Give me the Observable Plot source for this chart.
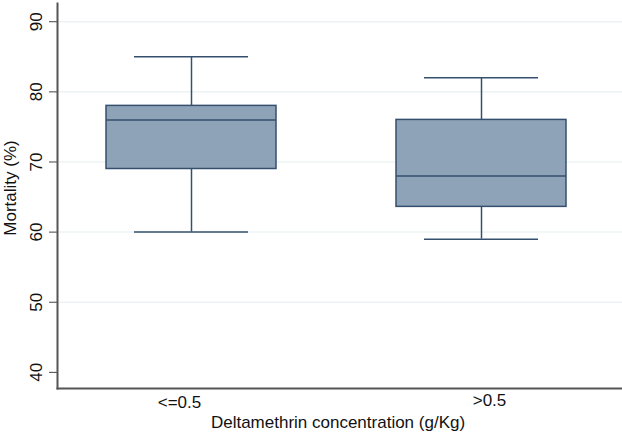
<!DOCTYPE html>
<html>
<head>
<meta charset="utf-8">
<script src="https://cdn.jsdelivr.net/npm/d3@7"></script>
<script src="https://cdn.jsdelivr.net/npm/@observablehq/plot@0.6"></script>
<style>
  html, body { margin: 0; padding: 0; background: #fff; }
  svg { font-family: "Liberation Sans", Arial, sans-serif; }
</style>
</head>
<body>
<div id="chart"></div>
<script>
const categories = ["<=0.5", ">0.5"];
const lowerWhisker = [60, 59];
const q1 = [69, 63.6];
const median = [76, 68];
const q3 = [78, 76];
const upperWhisker = [85, 82];
const yTicks = [40, 50, 60, 70, 80, 90];
const gridTicks = [50, 60, 70, 80, 90];

const data = categories.map((c, i) => ({
  cat: c, lo: lowerWhisker[i], q1: q1[i], med: median[i], q3: q3[i], hi: upperWhisker[i]
}));

const fill = "#8fa3b8";
const stroke = "#34506e";

const chart = Plot.plot({
  width: 622,
  height: 436,
  marginTop: 3,
  marginBottom: 48,
  marginLeft: 57,
  marginRight: 0,
  style: { fontFamily: "Liberation Sans, Arial, sans-serif", fontSize: "17px", background: "#fff" },
  x: { type: "band", domain: categories, paddingInner: 0.414, paddingOuter: 0.18, align: 0.47 },
  y: { domain: [37.7, 92.6] },
  marks: [
    Plot.ruleY(gridTicks, { stroke: "#edf3f5", strokeWidth: 1.5 }),
    Plot.ruleX(data, { x: "cat", y1: "lo", y2: "q1", stroke, strokeWidth: 1.5 }),
    Plot.ruleX(data, { x: "cat", y1: "q3", y2: "hi", stroke, strokeWidth: 1.5 }),
    Plot.tickY(data, { x: "cat", y: "lo", stroke, strokeWidth: 1.5, insetLeft: 28, insetRight: 28 }),
    Plot.tickY(data, { x: "cat", y: "hi", stroke, strokeWidth: 1.5, insetLeft: 28, insetRight: 28 }),
    Plot.barY(data, { x: "cat", y1: "q1", y2: "q3", fill, stroke, strokeWidth: 1.5 }),
    Plot.tickY(data, { x: "cat", y: "med", stroke, strokeWidth: 1.5 }),
    Plot.axisY({
      ticks: yTicks, tickSize: 8, tickFormat: () => "",
      stroke: "#444", label: null
    }),
    Plot.text(yTicks, { y: d => d, frameAnchor: "left", dx: -21, rotate: -90, textAnchor: "middle", fill: "#111", fontSize: 17 }),
    Plot.text(["Mortality (%)"], { frameAnchor: "left", dx: -47, dy: -8, rotate: -90, textAnchor: "middle", fill: "#111", fontSize: 17 }),
    Plot.axisX({ tickSize: 0, tickFormat: () => "", label: null }),
    Plot.text([categories[0]], { x: d => d, frameAnchor: "bottom", dy: 19, dx: -12, fill: "#111", fontSize: 17 }),
    Plot.text([categories[1]], { x: d => d, frameAnchor: "bottom", dy: 17, dx: 8, fill: "#111", fontSize: 17 }),
    Plot.text(["Deltamethrin concentration (g/Kg)"], { frameAnchor: "bottom", dx: -2, dy: 39, fill: "#111", fontSize: 17 }),
    Plot.frame({ anchor: "left", stroke: "#555", strokeWidth: 2 }),
    Plot.frame({ anchor: "bottom", stroke: "#555", strokeWidth: 2 })
  ]
});
document.getElementById("chart").appendChild(chart);
</script>
</body>
</html>
